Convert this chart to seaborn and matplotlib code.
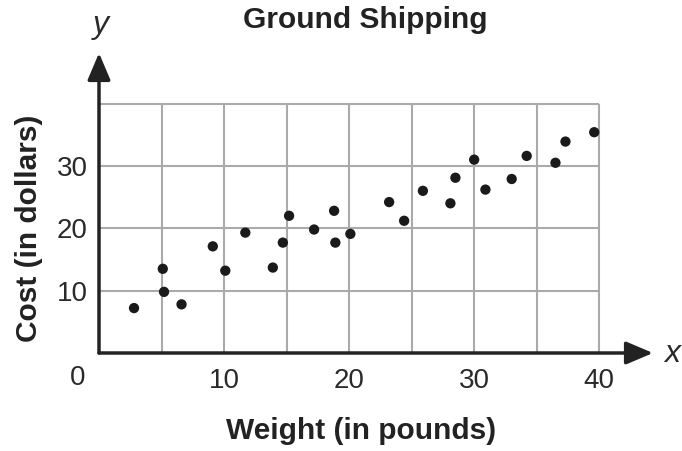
import matplotlib
matplotlib.use("Agg")
import matplotlib.pyplot as plt
import seaborn as sns
import pandas as pd

weight = [2.8, 5.1, 5.2, 6.6, 9.1, 10.1, 11.7, 13.9, 14.7, 15.2, 17.2, 18.8, 18.9,
          20.1, 23.2, 24.4, 25.9, 28.1, 28.5, 30.0, 30.9, 33.0, 34.2, 36.5, 37.3, 39.6]
cost = [7.2, 13.5, 9.8, 7.8, 17.1, 13.2, 19.3, 13.7, 17.7, 22.0, 19.8, 22.8, 17.7,
        19.1, 24.2, 21.2, 26.0, 24.0, 28.1, 31.0, 26.2, 27.9, 31.6, 30.5, 33.9, 35.4]
x_ticks = [10, 20, 30, 40]
y_ticks = [10, 20, 30]

df = pd.DataFrame({"Weight": weight, "Cost": cost})

sns.set_style("white")
plt.rcParams["font.family"] = ["Liberation Sans", "DejaVu Sans"]

W, H = 682, 451
fig = plt.figure(figsize=(W / 100, H / 100), dpi=100)
x0, y0 = 99, 353
ax = fig.add_axes([x0 / W, (H - y0) / H, 554 / W, 300 / H])
ax.set_xlim(0, 44.3)
ax.set_ylim(0, 48.1)

grid_c = "#aaaaaa"
ax.vlines(range(5, 41, 5), 0, 40, color=grid_c, lw=1.5, zorder=1)
ax.hlines(range(10, 41, 10), 0, 40, color=grid_c, lw=1.5, zorder=1)

sns.scatterplot(data=df, x="Weight", y="Cost", ax=ax, s=55, color="#1a1a1a",
                edgecolor="none", zorder=3)

for sp in ax.spines.values():
    sp.set_visible(False)

axc = "#222222"
style = "-|>,head_length=1.65,head_width=0.7"
ax.annotate("", xy=(44.3, 0), xytext=(0, 0),
            arrowprops=dict(arrowstyle=style, color=axc, lw=2.5, shrinkA=0, shrinkB=0),
            annotation_clip=False, zorder=4)
ax.annotate("", xy=(0, 48.1), xytext=(0, 0),
            arrowprops=dict(arrowstyle=style, color=axc, lw=2.5, shrinkA=0, shrinkB=0),
            annotation_clip=False, zorder=4)

tc = "#2a2a2a"
ax.set_xticks(x_ticks)
ax.set_yticks(y_ticks)
ax.tick_params(length=0, labelsize=20, colors=tc)
ax.tick_params(axis="x", pad=11)
ax.tick_params(axis="y", pad=8)
ax.set_xlabel("")
ax.set_ylabel("")

fig.text(78 / W, 1 - 378 / H, "0", fontsize=20, color=tc, ha="center", va="center")
fig.text(361 / W, 1 - 439 / H, "Weight (in pounds)", fontsize=21.5, fontweight="bold",
         color=axc, ha="center", va="baseline")
fig.text(29 / W, 1 - 228 / H, "Cost (in dollars)", fontsize=21.5, fontweight="bold",
         color=axc, ha="center", va="center", rotation=90)
fig.text(365 / W, 1 - 28 / H, "Ground Shipping", fontsize=21.5, fontweight="bold",
         color=axc, ha="center", va="baseline")
fig.text(101 / W, 1 - 25 / H, "y", fontsize=23, style="italic",
         color=tc, ha="center", va="center")
fig.text(672 / W, 1 - 354 / H, "x", fontsize=23, style="italic",
         color=tc, ha="center", va="center")

fig.savefig("out.png", dpi=100)
